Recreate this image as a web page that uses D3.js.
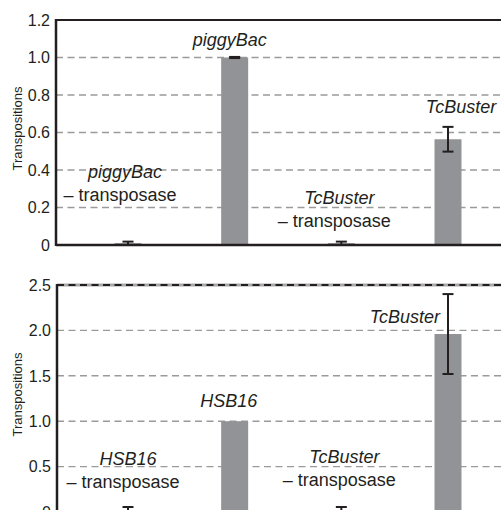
<!DOCTYPE html>
<html>
<head>
<meta charset="utf-8">
<script src="https://cdn.jsdelivr.net/npm/d3@7"></script>
<style>
  body { margin: 0; background: #fff; }
  svg { display: block; font-family: "Liberation Sans", Arial, Helvetica, sans-serif; }
  .tick-label { font-size: 16px; fill: #231f20; }
  .note { font-size: 18px; fill: #231f20; }
</style>
</head>
<body>
<svg id="chart" width="501" height="510"></svg>
<script>
// conditions, left to right, in both panels
const categories = ["minusA", "plusA", "minusB", "plusB"];

// upper panel: piggyBac vs TcBuster
const topNames = ["piggyBac", "piggyBac", "TcBuster", "TcBuster"];
const topValues = [0.01, 1.0, 0.01, 0.564];
const topErrors = [0.008, 0.003, 0.008, 0.066];
const topTicks = [0, 0.2, 0.4, 0.6, 0.8, 1.0, 1.2];

// lower panel: HSB16 vs TcBuster
const bottomNames = ["HSB16", "HSB16", "TcBuster", "TcBuster"];
const bottomValues = [0.02, 1.0, 0.02, 1.96];
const bottomErrors = [0.035, 0, 0.035, 0.44];
const bottomTicks = [0, 0.5, 1.0, 1.5, 2.0, 2.5];

// "− transposase" flag per condition
const minusFlags = [true, false, true, false];

const svg = d3.select("#chart");
const width = +svg.attr("width");
const barWidth = 27;
const barColor = "#929396";
const ink = "#231f20";

const x = d3.scalePoint().domain(categories).range([128, 448]);

function drawPanel(opts) {
  const { top, bottom, axisX, ticks, values, errors, names, labels, dashedTop } = opts;
  const yMax = ticks[ticks.length - 1];
  const y = d3.scaleLinear().domain([0, yMax]).range([bottom, top]);
  const g = svg.append("g");

  // dashed grid lines
  g.selectAll("line.grid")
    .data(ticks.filter((t) => t > 0 && t < yMax))
    .enter()
    .append("line")
    .attr("class", "grid")
    .attr("x1", axisX)
    .attr("x2", width)
    .attr("y1", (d) => y(d))
    .attr("y2", (d) => y(d))
    .attr("stroke", "#9a9a9a")
    .attr("stroke-width", 1.4)
    .attr("stroke-dasharray", "7,4.5");

  // tick labels
  g.selectAll("text.tick-label")
    .data(ticks)
    .enter()
    .append("text")
    .attr("class", "tick-label")
    .attr("x", axisX - 6)
    .attr("y", (d) => y(d))
    .attr("dy", "0.36em")
    .attr("text-anchor", "end")
    .text((d) => (d === 0 ? "0" : d3.format(".1f")(d)));

  // bars
  g.selectAll("rect.bar")
    .data(values)
    .enter()
    .append("rect")
    .attr("class", "bar")
    .attr("x", (d, i) => x(categories[i]) - barWidth / 2)
    .attr("y", (d) => y(d))
    .attr("width", barWidth)
    .attr("height", (d) => bottom - y(d))
    .attr("fill", barColor);

  // error bars
  const err = g.selectAll("g.err")
    .data(values.map((v, i) => ({ v, e: errors[i], c: categories[i] })).filter((d) => d.e > 0))
    .enter()
    .append("g")
    .attr("class", "err")
    .attr("stroke", ink)
    .attr("stroke-width", 2);
  err.append("line")
    .attr("x1", (d) => x(d.c)).attr("x2", (d) => x(d.c))
    .attr("y1", (d) => y(Math.max(0, d.v - d.e)))
    .attr("y2", (d) => y(d.v + d.e));
  err.append("line")
    .attr("x1", (d) => x(d.c) - 5.5).attr("x2", (d) => x(d.c) + 5.5)
    .attr("y1", (d) => y(d.v + d.e)).attr("y2", (d) => y(d.v + d.e));
  err.filter((d) => d.v - d.e > 0.02)
    .append("line")
    .attr("x1", (d) => x(d.c) - 5.5).attr("x2", (d) => x(d.c) + 5.5)
    .attr("y1", (d) => y(d.v - d.e)).attr("y2", (d) => y(d.v - d.e));

  // top border
  if (dashedTop) {
    g.append("line")
      .attr("x1", axisX).attr("x2", width)
      .attr("y1", top).attr("y2", top)
      .attr("stroke", "#a8a8a8").attr("stroke-width", 3);
    g.append("line")
      .attr("x1", axisX).attr("x2", width)
      .attr("y1", top).attr("y2", top)
      .attr("stroke", ink).attr("stroke-width", 2.2)
      .attr("stroke-dasharray", "7,4.5");
  } else {
    g.append("line")
      .attr("x1", axisX).attr("x2", width)
      .attr("y1", top).attr("y2", top)
      .attr("stroke", ink).attr("stroke-width", 2);
  }

  // axes
  g.append("line")
    .attr("x1", axisX).attr("x2", width)
    .attr("y1", bottom).attr("y2", bottom)
    .attr("stroke", ink).attr("stroke-width", 2.5);
  g.append("line")
    .attr("x1", axisX).attr("x2", axisX)
    .attr("y1", top - 1).attr("y2", bottom + 1)
    .attr("stroke", ink).attr("stroke-width", 2.5);

  // y axis title
  g.append("text")
    .attr("transform", `translate(22,${(top + bottom) / 2 - 4}) rotate(-90)`)
    .attr("text-anchor", "middle")
    .attr("font-size", 13)
    .attr("fill", ink)
    .text("Transpositions");

  // annotations
  labels.forEach((lab, i) => {
    const cx = x(categories[i]);
    g.append("text")
      .attr("class", "note")
      .attr("x", cx + lab.dx)
      .attr("y", lab.y)
      .attr("text-anchor", lab.anchor || "middle")
      .attr("font-style", "italic")
      .text(names[i]);
    if (minusFlags[i]) {
      g.append("text")
        .attr("class", "note")
        .attr("x", cx + lab.dx - 5)
        .attr("y", lab.y + 23)
        .attr("text-anchor", "middle")
        .text("\u2013 transposase");
    }
  });
}

drawPanel({
  top: 20,
  bottom: 245,
  axisX: 56,
  ticks: topTicks,
  values: topValues,
  errors: topErrors,
  names: topNames,
  dashedTop: false,
  labels: [
    { dx: -3, y: 178 },
    { dx: -5, y: 46 },
    { dx: -2, y: 204 },
    { dx: 13, y: 113 },
  ],
});

drawPanel({
  top: 285,
  bottom: 512,
  axisX: 57,
  ticks: bottomTicks,
  values: bottomValues,
  errors: bottomErrors,
  names: bottomNames,
  dashedTop: true,
  labels: [
    { dx: 0, y: 465 },
    { dx: -6, y: 407 },
    { dx: 3, y: 463 },
    { dx: -8, y: 323, anchor: "end" },
  ],
});
</script>
</body>
</html>
